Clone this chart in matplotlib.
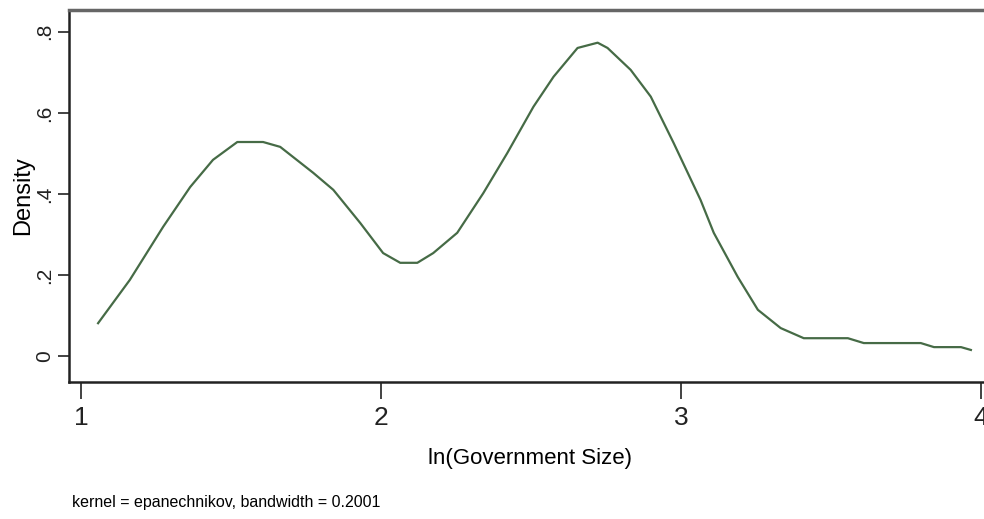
import matplotlib.pyplot as plt

# kernel density estimate
gov_size = [1.057, 1.163, 1.274, 1.364, 1.440, 1.521, 1.607, 1.664, 1.774, 1.841,
            1.931, 2.007, 2.064, 2.121, 2.174, 2.254, 2.341, 2.421, 2.508, 2.575,
            2.655, 2.722, 2.755, 2.832, 2.899, 2.975, 3.065, 3.109, 3.189, 3.256,
            3.332, 3.409, 3.556, 3.609, 3.799, 3.843, 3.933, 3.966]
density = [0.081, 0.188, 0.319, 0.417, 0.484, 0.528, 0.528, 0.516, 0.452, 0.410,
           0.328, 0.254, 0.230, 0.230, 0.254, 0.304, 0.402, 0.501, 0.615, 0.689,
           0.760, 0.773, 0.760, 0.706, 0.640, 0.526, 0.385, 0.304, 0.195, 0.114,
           0.069, 0.044, 0.044, 0.032, 0.032, 0.022, 0.022, 0.015]

xticks = [1, 2, 3, 4]
yticks = [0, 0.2, 0.4, 0.6, 0.8]
ytick_labels = ["0", ".2", ".4", ".6", ".8"]

plt.rcParams['font.family'] = ['Liberation Sans', 'DejaVu Sans']

fig = plt.figure(figsize=(9.84, 5.19), dpi=100)
ax = fig.add_axes([0.0701, 0.264, 0.93, 0.717])

ax.plot(gov_size, density, color='#466b46', linewidth=1.6)

ax.set_xlim(0.96, 4.01)
ax.set_ylim(-0.064, 0.854)
ax.set_xticks(xticks)
ax.set_xticklabels([str(t) for t in xticks], fontsize=19)
ax.set_yticks(yticks)
ax.set_yticklabels(ytick_labels, fontsize=15, rotation=90, va='center')
ax.tick_params(axis='x', direction='out', length=12, width=1.2, pad=5, colors='#222222')
ax.tick_params(axis='y', direction='out', length=8, width=1.2, pad=3, colors='#222222')

for s in ['left', 'bottom']:
    ax.spines[s].set_linewidth(1.8)
    ax.spines[s].set_color('#222222')
ax.spines['top'].set_linewidth(2.5)
ax.spines['top'].set_color('#666666')
ax.spines['right'].set_visible(False)

ax.set_xlabel('ln(Government Size)', fontsize=16)
ax.xaxis.set_label_coords(0.504, -0.205)
ax.xaxis.label.set_va('center')
ax.set_ylabel('Density', fontsize=17)
ax.yaxis.set_label_coords(-0.0503, 0.5)
ax.yaxis.label.set_va('center')

fig.text(0.073, 0.031, 'kernel = epanechnikov, bandwidth = 0.2001', fontsize=11.5, va='center')

fig.savefig('out.png', dpi=100)
